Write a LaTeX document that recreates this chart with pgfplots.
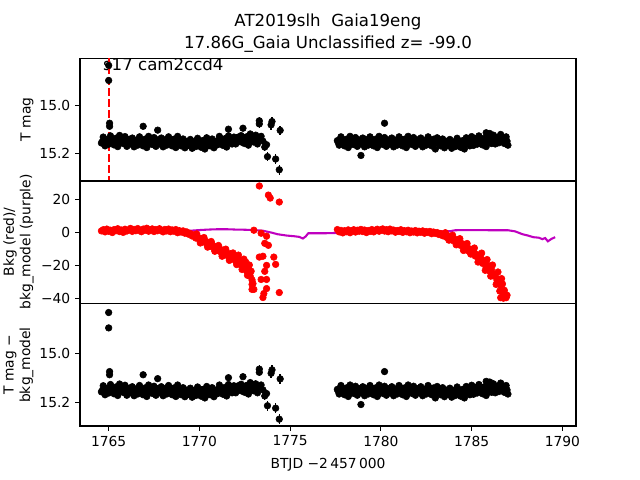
\documentclass[border=0pt]{standalone}
\usepackage{fontspec}
\setmainfont{DejaVu Sans}
\usepackage{pgfplots}
\usepackage{pgfplotstable}
\pgfplotsset{compat=1.18}

\pgfplotstableread{
t m e
1764.6 15.158 0.008
1764.7 15.133 0.008
1764.8 15.170 0.008
1764.9 15.144 0.008
1765.0 15.163 0.008
1765.0 14.833 0.008
1765.0 14.896 0.008
1765.05 15.075 0.008
1765.05 15.088 0.008
1765.1 15.128 0.008
1765.2 15.153 0.008
1765.3 15.166 0.008
1765.4 15.138 0.008
1765.5 15.173 0.008
1765.6 15.126 0.008
1765.7 15.150 0.008
1765.8 15.160 0.008
1765.9 15.131 0.008
1766.0 15.172 0.008
1766.1 15.145 0.008
1766.2 15.162 0.008
1766.3 15.137 0.008
1766.4 15.174 0.008
1766.5 15.148 0.008
1766.6 15.167 0.008
1766.7 15.132 0.008
1766.8 15.157 0.008
1766.9 15.170 0.008
1766.9 15.088 0.008
1767.0 15.142 0.008
1767.1 15.177 0.008
1767.2 15.130 0.008
1767.3 15.154 0.008
1767.4 15.164 0.008
1767.5 15.135 0.008
1767.6 15.172 0.008
1767.7 15.145 0.008
1767.7 15.104 0.008
1767.8 15.162 0.008
1767.9 15.137 0.008
1768.0 15.174 0.008
1768.1 15.148 0.008
1768.2 15.167 0.008
1768.3 15.132 0.008
1768.4 15.157 0.008
1768.5 15.170 0.008
1768.6 15.142 0.008
1768.7 15.177 0.008
1768.8 15.130 0.008
1768.9 15.154 0.008
1769.0 15.170 0.008
1769.1 15.141 0.008
1769.2 15.178 0.008
1769.3 15.151 0.008
1769.4 15.168 0.008
1769.5 15.143 0.008
1769.6 15.180 0.008
1769.7 15.154 0.008
1769.8 15.173 0.008
1769.9 15.138 0.008
1770.0 15.163 0.008
1770.1 15.176 0.008
1770.2 15.148 0.008
1770.3 15.183 0.008
1770.4 15.136 0.008
1770.5 15.160 0.008
1770.6 15.170 0.008
1770.7 15.141 0.008
1770.8 15.178 0.008
1770.9 15.151 0.008
1771.0 15.165 0.008
1771.1 15.130 0.008
1771.2 15.155 0.008
1771.3 15.168 0.008
1771.4 15.140 0.008
1771.5 15.175 0.008
1771.6 15.128 0.008
1771.6 15.100 0.008
1771.7 15.152 0.008
1771.8 15.162 0.008
1771.9 15.133 0.008
1772.0 15.162 0.008
1772.1 15.135 0.008
1772.2 15.152 0.008
1772.3 15.127 0.008
1772.4 15.157 0.008
1772.4 15.096 0.008
1772.5 15.160 0.008
1772.6 15.132 0.008
1772.7 15.167 0.008
1772.8 15.120 0.008
1772.9 15.144 0.008
1773.0 15.154 0.008
1773.1 15.125 0.008
1773.2 15.162 0.008
1773.2 15.140 0.010
1773.3 15.065 0.015
1773.3 15.078 0.015
1773.4 15.130 0.012
1773.5 15.150 0.012
1773.6 15.175 0.015
1773.7 15.165 0.015
1773.75 15.215 0.020
1773.95 15.082 0.020
1774.0 15.068 0.020
1774.2 15.225 0.020
1774.45 15.105 0.020
1774.4 15.270 0.020
1777.6 15.148 0.008
1777.7 15.167 0.008
1777.8 15.132 0.008
1777.9 15.157 0.008
1778.0 15.170 0.008
1778.1 15.142 0.008
1778.2 15.177 0.008
1778.3 15.130 0.008
1778.4 15.154 0.008
1778.5 15.164 0.008
1778.6 15.135 0.008
1778.7 15.172 0.008
1778.8 15.145 0.008
1778.9 15.162 0.008
1778.9 15.210 0.008
1779.0 15.137 0.008
1779.1 15.174 0.008
1779.2 15.148 0.008
1779.3 15.167 0.008
1779.4 15.132 0.008
1779.5 15.157 0.008
1779.6 15.170 0.008
1779.7 15.142 0.008
1779.8 15.177 0.008
1779.9 15.130 0.008
1780.0 15.154 0.008
1780.1 15.164 0.008
1780.2 15.135 0.008
1780.2 15.075 0.008
1780.3 15.172 0.008
1780.4 15.145 0.008
1780.5 15.162 0.008
1780.6 15.137 0.008
1780.7 15.174 0.008
1780.8 15.148 0.008
1780.9 15.167 0.008
1781.0 15.132 0.008
1781.1 15.157 0.008
1781.2 15.170 0.008
1781.3 15.142 0.008
1781.4 15.177 0.008
1781.5 15.130 0.008
1781.6 15.154 0.008
1781.7 15.164 0.008
1781.8 15.135 0.008
1781.9 15.172 0.008
1782.0 15.145 0.008
1782.1 15.162 0.008
1782.2 15.137 0.008
1782.3 15.174 0.008
1782.4 15.148 0.008
1782.5 15.167 0.008
1782.6 15.132 0.008
1782.7 15.157 0.008
1782.8 15.170 0.008
1782.9 15.142 0.008
1783.0 15.183 0.008
1783.1 15.136 0.008
1783.2 15.160 0.008
1783.3 15.170 0.008
1783.4 15.141 0.008
1783.5 15.178 0.008
1783.6 15.151 0.008
1783.7 15.168 0.008
1783.8 15.143 0.008
1783.9 15.180 0.008
1784.0 15.154 0.008
1784.1 15.173 0.008
1784.2 15.138 0.008
1784.3 15.163 0.008
1784.4 15.176 0.008
1784.5 15.148 0.008
1784.6 15.183 0.008
1784.7 15.136 0.008
1784.8 15.160 0.008
1784.9 15.170 0.008
1785.0 15.131 0.008
1785.1 15.168 0.008
1785.2 15.141 0.008
1785.3 15.163 0.008
1785.4 15.128 0.008
1785.5 15.153 0.008
1785.6 15.166 0.008
1785.7 15.138 0.008
1785.8 15.173 0.008
1785.8 15.115 0.008
1785.9 15.126 0.008
1786.0 15.150 0.008
1786.0 15.118 0.008
1786.1 15.160 0.008
1786.2 15.125 0.008
1786.3 15.162 0.008
1786.4 15.135 0.008
1786.5 15.157 0.008
1786.6 15.122 0.008
1786.7 15.147 0.008
1786.8 15.160 0.008
1786.9 15.132 0.008
1787.0 15.167 0.008
}\magtab

\pgfplotstableread{
t m
1764.65 15.152
1764.75 15.142
1764.85 15.149
1764.95 15.156
1765.05 15.145
1765.15 15.139
1765.25 15.154
1765.35 15.147
1765.45 15.158
1765.55 15.141
1765.65 15.152
1765.75 15.142
1765.85 15.149
1765.95 15.156
1766.05 15.149
1766.15 15.143
1766.25 15.158
1766.35 15.151
1766.45 15.162
1766.55 15.145
1766.65 15.156
1766.75 15.146
1766.85 15.153
1766.95 15.160
1767.05 15.149
1767.15 15.143
1767.25 15.158
1767.35 15.151
1767.45 15.162
1767.55 15.145
1767.65 15.156
1767.75 15.146
1767.85 15.153
1767.95 15.160
1768.05 15.149
1768.15 15.143
1768.25 15.158
1768.35 15.151
1768.45 15.162
1768.55 15.145
1768.65 15.156
1768.75 15.146
1768.85 15.153
1768.95 15.160
1769.05 15.155
1769.15 15.149
1769.25 15.164
1769.35 15.157
1769.45 15.168
1769.55 15.151
1769.65 15.162
1769.75 15.152
1769.85 15.159
1769.95 15.166
1770.05 15.155
1770.15 15.149
1770.25 15.164
1770.35 15.157
1770.45 15.168
1770.55 15.151
1770.65 15.162
1770.75 15.152
1770.85 15.159
1770.95 15.166
1771.05 15.147
1771.15 15.141
1771.25 15.156
1771.35 15.149
1771.45 15.160
1771.55 15.143
1771.65 15.154
1771.75 15.144
1771.85 15.151
1771.95 15.158
1772.05 15.139
1772.15 15.133
1772.25 15.148
1772.35 15.141
1772.45 15.152
1772.55 15.135
1772.65 15.146
1772.75 15.136
1772.85 15.143
1772.95 15.150
1773.05 15.139
1773.15 15.133
1777.65 15.156
1777.75 15.146
1777.85 15.153
1777.95 15.160
1778.05 15.149
1778.15 15.143
1778.25 15.158
1778.35 15.151
1778.45 15.162
1778.55 15.145
1778.65 15.156
1778.75 15.146
1778.85 15.153
1778.95 15.160
1779.05 15.149
1779.15 15.143
1779.25 15.158
1779.35 15.151
1779.45 15.162
1779.55 15.145
1779.65 15.156
1779.75 15.146
1779.85 15.153
1779.95 15.160
1780.05 15.149
1780.15 15.143
1780.25 15.158
1780.35 15.151
1780.45 15.162
1780.55 15.145
1780.65 15.156
1780.75 15.146
1780.85 15.153
1780.95 15.160
1781.05 15.149
1781.15 15.143
1781.25 15.158
1781.35 15.151
1781.45 15.162
1781.55 15.145
1781.65 15.156
1781.75 15.146
1781.85 15.153
1781.95 15.160
1782.05 15.149
1782.15 15.143
1782.25 15.158
1782.35 15.151
1782.45 15.162
1782.55 15.145
1782.65 15.156
1782.75 15.146
1782.85 15.153
1782.95 15.160
1783.05 15.155
1783.15 15.149
1783.25 15.164
1783.35 15.157
1783.45 15.168
1783.55 15.151
1783.65 15.162
1783.75 15.152
1783.85 15.159
1783.95 15.166
1784.05 15.155
1784.15 15.149
1784.25 15.164
1784.35 15.157
1784.45 15.168
1784.55 15.151
1784.65 15.162
1784.75 15.152
1784.85 15.159
1784.95 15.166
1785.05 15.145
1785.15 15.139
1785.25 15.154
1785.35 15.147
1785.45 15.158
1785.55 15.141
1785.65 15.152
1785.75 15.142
1785.85 15.149
1785.95 15.156
1786.05 15.145
1786.15 15.139
1786.25 15.148
1786.35 15.141
1786.45 15.152
1786.55 15.135
1786.65 15.146
1786.75 15.136
1786.85 15.143
1786.95 15.150
}\midtab

\pgfplotstableread{
t b
1764.6 0.8
1764.7 1.5
1764.8 0.2
1764.9 1.9
1765.0 0.6
1765.1 1.2
1765.2 -0.2
1765.3 1.6
1765.4 0.9
1765.5 2.1
1765.6 0.4
1765.7 1.3
1765.8 -0.1
1765.9 1.8
1766.0 0.7
1766.1 1.4
1766.2 2.3
1766.3 0.5
1766.4 1.7
1766.5 0.9
1766.6 2.2
1766.7 1.1
1766.8 0.3
1766.9 1.9
1767.0 1.2
1767.1 2.4
1767.2 0.6
1767.3 1.5
1767.4 2.0
1767.5 0.4
1767.6 1.6
1767.7 0.9
1767.8 2.1
1767.9 1.0
1768.0 0.2
1768.1 1.7
1768.2 0.8
1768.3 1.9
1768.4 0.3
1768.5 1.4
1768.6 0.6
1768.7 1.6
1768.8 -0.3
1768.9 0.9
1769.0 0.1
1769.1 0.8
1769.2 -0.6
1769.3 0.2
1769.4 -1.2
1769.5 -0.8
1769.6 -2.3
1769.7 -1.6
1769.8 -3.5
1769.9 -2.8
1770.0 -4.6
1770.1 -3.9
1770.2 -5.8
1770.3 -5.0
1770.4 -7.1
1770.5 -6.2
1770.6 -8.5
1770.7 -7.4
1770.8 -9.6
1770.9 -8.8
1771.0 -11.0
1771.1 -9.7
1771.2 -12.3
1771.3 -10.8
1771.4 -13.6
1771.5 -12.1
1771.6 -14.8
1771.7 -13.0
1771.8 -16.2
1771.9 -14.5
1772.0 -17.4
1772.1 -15.6
1772.2 -19.3
1772.3 -17.2
1772.4 -21.0
1772.5 -19.1
1772.6 -23.4
1772.7 -22.0
1772.8 -26.5
1772.9 -28.8
1772.95 -31.0
1773.0 -34.5
1772.9 -34.5
1769.85 -1.0
1770.05 -6.5
1770.25 -3.2
1770.45 -9.0
1770.65 -5.6
1770.85 -11.5
1771.05 -8.0
1771.25 -14.5
1771.45 -10.2
1771.65 -17.0
1771.85 -12.5
1772.05 -19.5
1772.15 -13.8
1772.35 -22.5
1772.45 -16.2
1772.55 -18.0
1772.65 -26.0
1772.75 -19.8
1772.85 -23.5
1772.9 -31.5
1773.0 1.2
1773.3 27.9
1773.8 22.4
1773.9 20.6
1774.4 18.2
1773.4 -0.6
1773.7 -2.4
1773.6 -6.7
1773.8 -7.9
1773.3 -15.0
1773.5 -14.5
1774.1 -15.0
1773.7 -20.0
1774.2 -19.4
1773.6 -23.6
1773.4 -28.5
1773.7 -28.5
1773.7 -34.0
1773.55 -37.0
1773.5 -39.4
1774.4 -36.4
1777.6 1.6
1777.7 0.2
1777.8 1.1
1777.9 -0.4
1778.0 0.9
1778.1 0.3
1778.2 1.4
1778.3 -0.3
1778.4 0.8
1778.5 1.5
1778.6 0.1
1778.7 1.2
1778.8 0.6
1778.9 1.7
1779.0 0.4
1779.1 1.3
1779.2 -0.2
1779.3 1.0
1779.4 0.5
1779.5 1.6
1779.6 0.2
1779.7 1.1
1779.8 1.8
1779.9 0.6
1780.0 1.4
1780.1 2.0
1780.2 0.7
1780.3 1.5
1780.4 0.3
1780.5 1.9
1780.6 0.8
1780.7 1.3
1780.8 0.0
1780.9 1.0
1781.0 0.4
1781.1 1.5
1781.2 -0.1
1781.3 0.9
1781.4 0.3
1781.5 1.2
1781.6 -0.3
1781.7 0.7
1781.8 0.1
1781.9 1.0
1782.0 -0.4
1782.1 0.6
1782.2 0.0
1782.3 0.8
1782.4 -0.6
1782.5 0.4
1782.6 -0.2
1782.7 0.5
1782.8 -0.9
1782.9 0.1
1783.0 -0.7
1783.1 -0.2
1783.2 -1.4
1783.3 -0.8
1783.4 -2.1
1783.5 -1.5
1783.6 -3.0
1783.7 -2.2
1783.8 -3.9
1783.9 -3.1
1784.0 -5.2
1784.1 -4.3
1784.2 -6.5
1784.3 -5.6
1784.4 -8.0
1784.5 -7.0
1784.6 -9.6
1784.7 -8.7
1784.8 -11.2
1784.9 -10.1
1785.0 -12.7
1785.1 -11.6
1785.2 -14.4
1785.3 -13.5
1785.4 -16.5
1785.5 -15.4
1785.6 -18.8
1785.7 -17.6
1785.8 -21.3
1785.9 -20.0
1786.0 -23.6
1786.1 -22.8
1786.2 -26.4
1786.3 -25.5
1786.4 -29.1
1786.5 -28.3
1786.6 -32.0
1786.7 -31.2
1786.8 -35.0
1786.85 -37.5
1786.9 -39.5
1786.6 -39.5
1786.75 -39.8
1786.95 -38.0
1783.55 -0.3
1783.75 -4.8
1783.95 -1.8
1784.15 -7.6
1784.35 -3.9
1784.55 -11.0
1784.75 -6.8
1784.95 -13.2
1785.15 -9.5
1785.35 -18.0
1785.55 -12.6
1785.75 -23.0
1785.85 -16.5
1786.05 -26.5
1786.15 -19.8
1786.35 -31.5
1786.45 -24.0
1786.55 -35.5
1786.65 -28.0
1786.75 -36.8
}\bkgtab

\pgfplotstableread{
t b
1764.6 0.0
1765.5 0.3
1766.5 0.5
1767.5 0.6
1768.5 0.8
1769.5 0.9
1770.0 1.3
1770.5 1.6
1771.0 1.8
1771.5 1.8
1772.0 1.6
1772.5 1.5
1773.0 1.3
1773.5 0.9
1774.0 -0.3
1774.3 -1.2
1774.8 -2.0
1775.2 -2.4
1775.5 -2.8
1775.7 -3.8
1775.85 -2.6
1776.0 -0.6
1777.0 -0.6
1778.0 -0.3
1779.0 0.0
1780.0 0.2
1781.0 0.3
1782.0 0.4
1783.0 0.5
1783.8 0.6
1784.1 1.2
1785.0 1.3
1786.0 1.2
1787.0 1.2
1787.4 0.5
1787.8 -1.2
1788.1 -2.0
1788.4 -3.0
1788.7 -3.3
1788.9 -4.2
1789.05 -3.5
1789.2 -5.5
1789.4 -4.0
1789.6 -3.0
}\modeltab

\definecolor{mplm}{rgb}{0.75,0,0.75}

\pgfplotsset{
  panel/.style={
    anchor=south west, scale only axis,
    width=4.96in, height=1.225in,
    xmin=1763.42, xmax=1790.75,
    axis line style={line width=0.8pt, black},
    every tick/.style={line width=0.8pt, black},
    tick align=outside, major tick length=3.5pt,
    ytick pos=left, xtick pos=bottom,
    /pgf/number format/assume math mode=true,
    tick label style={font=\fontsize{10}{12}\selectfont},
    clip=true,
  },
  dots/.style={only marks, mark=*, mark size=2.4pt, black,
    mark options={draw=black, fill=black}},
  blackpts/.style={dots,
    error bars/.cd, y dir=both, y explicit,
    error mark=none, error bar style={line width=1pt, black}},
}

\begin{document}
\begin{tikzpicture}
\path[use as bounding box] (0,0) rectangle (6.4in,4.8in);

% Panel 1
\begin{axis}[panel, at={(0.80in,2.99in)},
  y dir=reverse, ymin=14.804, ymax=15.317,
  ytick={15.0,15.2}, yticklabels={15.0,15.2}, xtick=\empty]
  \node[anchor=base west, inner sep=0pt, font=\fontsize{12}{14}\selectfont]
    at (rel axis cs:0.046,0.902) {s17 cam2ccd4};
  \addplot[red, line width=1.5pt, dash pattern=on 5.55pt off 2.4pt]
    coordinates {(1765,14.79) (1765,15.33)};
  \addplot[dots] table[x=t, y=m] {\midtab};
  \addplot[blackpts] table[x=t, y=m, y error=e] {\magtab};
\end{axis}

% Panel 2
\begin{axis}[panel, at={(0.80in,1.765in)},
  ymin=-43, ymax=30.9,
  ytick={-40,-20,0,20}, yticklabels={−40,−20,0,20}, xtick=\empty]
  \addplot[only marks, mark=*, mark size=2.4pt, red,
    mark options={draw=red, fill=red}] table[x=t, y=b] {\bkgtab};
  \addplot[mplm, line width=1.5pt] table[x=t, y=b] {\modeltab};
\end{axis}

% Panel 3
\begin{axis}[panel, at={(0.80in,0.54in)},
  y dir=reverse, ymin=14.796, ymax=15.298,
  ytick={15.0,15.2}, yticklabels={15.0,15.2},
  xtick={1765,1770,1775,1780,1785,1790},
  xticklabels={1765,1770,1775,1780,1785,1790}]
  \addplot[dots] table[x=t, y=m] {\midtab};
  \addplot[blackpts] table[x=t, y=m, y error=e] {\magtab};
\end{axis}

% Titles and labels
\node[anchor=base, font=\fontsize{12}{14}\selectfont] at (3.28in,4.53in) {AT2019slh\ \ Gaia19eng};
\node[anchor=base, font=\fontsize{12}{14}\selectfont] at (3.28in,4.31in) {17.86G\_Gaia Unclassified z= -99.0};
\node[anchor=base, font=\fontsize{10}{12}\selectfont] at (3.28in,0.12in) {BTJD −2\,457\,000};
\node[rotate=90, font=\fontsize{10}{12}\selectfont] at (0.27in,3.605in) {T mag};
\node[rotate=90, align=center, font=\fontsize{10}{12}\selectfont] at (0.185in,2.38in) {Bkg (red)/\\bkg\_model (purple)};
\node[rotate=90, align=center, font=\fontsize{10}{12}\selectfont] at (0.185in,1.15in) {T mag −\\bkg\_model};
\end{tikzpicture}
\end{document}
